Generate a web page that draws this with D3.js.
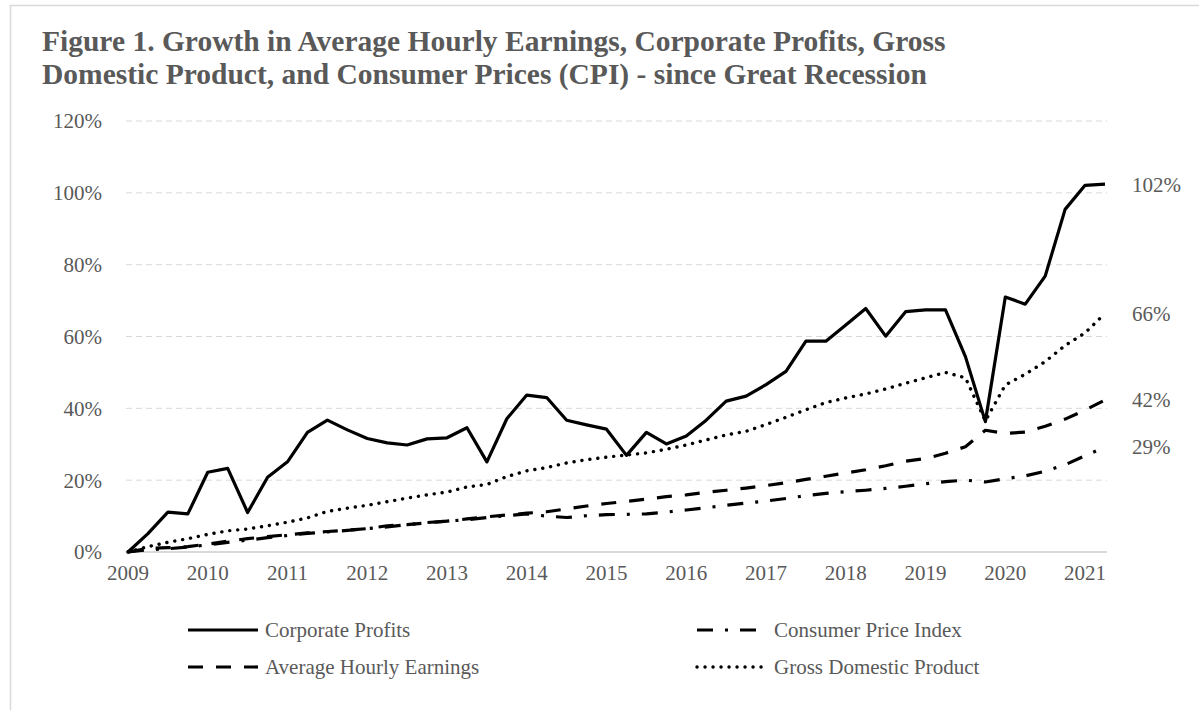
<!DOCTYPE html>
<html>
<head>
<meta charset="utf-8">
<script src="https://cdn.jsdelivr.net/npm/d3@7"></script>
<style>
  body { margin: 0; background: #fff; }
  text { font-family: "Liberation Serif", "Times New Roman", serif; fill: #595959; }
</style>
</head>
<body>
<div id="chart"></div>
<script>
// quarterly growth since 2009 Q1, in percent
const yearLabels = ["2009","2010","2011","2012","2013","2014","2015","2016","2017","2018","2019","2020","2021"];

const corpProfits = [0, 5.1, 11.1, 10.6, 22.2, 23.3, 11.0, 20.8, 25.1, 33.3,
  36.7, 34.0, 31.6, 30.4, 29.8, 31.5, 31.8, 34.6, 25.1, 37.1,
  43.7, 43.0, 36.7, 35.4, 34.2, 26.9, 33.3, 30.1, 32.3, 36.7,
  42.0, 43.4, 46.6, 50.3, 58.7, 58.7, 63.2, 67.8, 60.1, 66.9,
  67.4, 67.4, 54.4, 36.3, 71.0, 69.0, 76.8, 95.4, 102.1, 102.4];

const hourlyEarnings = [0, 1.0, 1.2, 1.5, 2.2, 3.0, 3.7, 4.3, 4.8, 5.3,
  5.7, 6.1, 6.5, 7.3, 7.6, 8.1, 8.6, 9.2, 9.8, 10.3,
  10.8, 11.2, 12.0, 12.8, 13.5, 14.1, 14.7, 15.4, 15.9, 16.6,
  17.2, 17.8, 18.5, 19.3, 20.2, 21.1, 22.0, 22.9, 24.0, 25.3,
  26.0, 27.5, 29.3, 33.9, 33.0, 33.4, 35.0, 37.0, 39.5, 42.3];

const cpi = [0, 0.6, 0.9, 1.4, 2.0, 2.7, 3.3, 4.0, 4.6, 5.2,
  5.6, 6.0, 6.5, 7.0, 7.6, 8.2, 8.6, 9.0, 9.6, 10.1,
  10.6, 10.0, 9.6, 10.1, 10.4, 10.5, 10.6, 11.1, 11.7, 12.3,
  13.0, 13.6, 14.2, 14.9, 15.7, 16.3, 16.8, 17.2, 17.7, 18.3,
  19.0, 19.6, 20.0, 19.5, 20.4, 21.2, 22.5, 24.3, 26.8, 29.2];

const gdp = [0, 1.5, 2.7, 3.7, 4.9, 5.9, 6.4, 7.3, 8.3, 9.5,
  11.3, 12.2, 13.0, 14.0, 15.0, 15.9, 16.7, 18.1, 18.8, 21.0,
  22.6, 23.5, 24.8, 25.7, 26.4, 27.0, 27.6, 28.6, 29.8, 31.2,
  32.6, 33.6, 35.5, 37.5, 39.6, 41.6, 42.9, 44.0, 45.4, 47.0,
  48.5, 50.0, 48.5, 36.5, 46.5, 49.5, 53.0, 57.5, 61.0, 66.4];

const yTicks = [0, 20, 40, 60, 80, 100, 120];

const series = [
  {name: "Corporate Profits", values: corpProfits, dash: null, cap: "butt"},
  {name: "Average Hourly Earnings", values: hourlyEarnings, dash: "15,13", cap: "butt"},
  {name: "Consumer Price Index", values: cpi, dash: "16,12,3,12", cap: "butt"},
  {name: "Gross Domestic Product", values: gdp, dash: "0.1,7.9", cap: "round"}
];

const W = 1199, H = 710;
const svg = d3.select("#chart").append("svg").attr("width", W).attr("height", H);

// frame
svg.append("rect").attr("x", 10.5).attr("y", 5.5).attr("width", 1200).attr("height", 720)
  .attr("fill", "none").attr("stroke", "#d9d9d9").attr("stroke-width", 1.5);

// title
const title = svg.append("text").style("font-weight", "bold").style("font-size", "29.5px");
title.append("tspan").attr("x", 42).attr("y", 51)
  .text("Figure 1. Growth in Average Hourly Earnings, Corporate Profits, Gross");
title.append("tspan").attr("x", 42).attr("y", 84)
  .text("Domestic Product, and Consumer Prices (CPI) - since Great Recession");

const x = d3.scaleLinear().domain([0, corpProfits.length - 1]).range([128, 1105]);
const y = d3.scaleLinear().domain([0, 120]).range([552, 121]);

// gridlines
const grid = svg.append("g");
grid.selectAll("line").data(yTicks).enter().append("line")
  .attr("x1", 126).attr("x2", 1107)
  .attr("y1", d => y(d)).attr("y2", d => y(d))
  .attr("stroke", "#d9d9d9")
  .attr("stroke-width", d => d === 0 ? 2 : 1)
  .attr("stroke-dasharray", d => d === 0 ? null : "6,4");

// y axis labels
svg.append("g").selectAll("text").data(yTicks).enter().append("text")
  .attr("x", 102).attr("y", d => y(d)).attr("dy", "0.35em")
  .attr("text-anchor", "end").style("font-size", "21px")
  .text(d => d + "%");

// x axis labels, one per year at every fourth quarter
svg.append("g").selectAll("text").data(yearLabels).enter().append("text")
  .attr("x", (d, i) => x(i * 4)).attr("y", 580)
  .attr("text-anchor", "middle").style("font-size", "21px")
  .text(d => d);

// lines
const line = d3.line().x((d, i) => x(i)).y(d => y(d));
svg.append("g").selectAll("path").data(series).enter().append("path")
  .attr("d", d => line(d.values))
  .attr("fill", "none").attr("stroke", "#000")
  .attr("stroke-width", d => d.cap === "round" ? 3.4 : 3.2)
  .attr("stroke-linejoin", "round")
  .attr("stroke-linecap", d => d.cap)
  .attr("stroke-dasharray", d => d.dash);

// end value labels
svg.append("g").selectAll("text").data(series).enter().append("text")
  .attr("x", 1132)
  .attr("y", d => y(d.values[d.values.length - 1]))
  .attr("dy", "0.35em").style("font-size", "21px")
  .text(d => Math.round(d.values[d.values.length - 1]) + "%");

// legend
const legendPos = [
  {lx: 188, ly: 630}, {lx: 188, ly: 667}, {lx: 697, ly: 630}, {lx: 697, ly: 667}
];
const legend = svg.append("g").selectAll("g").data(series).enter().append("g")
  .attr("transform", (d, i) => `translate(${legendPos[i].lx},${legendPos[i].ly})`);
legend.append("line").attr("x1", 0).attr("x2", 70).attr("y1", 0).attr("y2", 0)
  .attr("stroke", "#000")
  .attr("stroke-width", d => d.cap === "round" ? 3.4 : 3.2)
  .attr("stroke-linecap", d => d.cap)
  .attr("stroke-dasharray", d => d.dash);
legend.append("text").attr("x", 77).attr("y", 0).attr("dy", "0.35em")
  .style("font-size", "21px").text(d => d.name);
</script>
</body>
</html>
